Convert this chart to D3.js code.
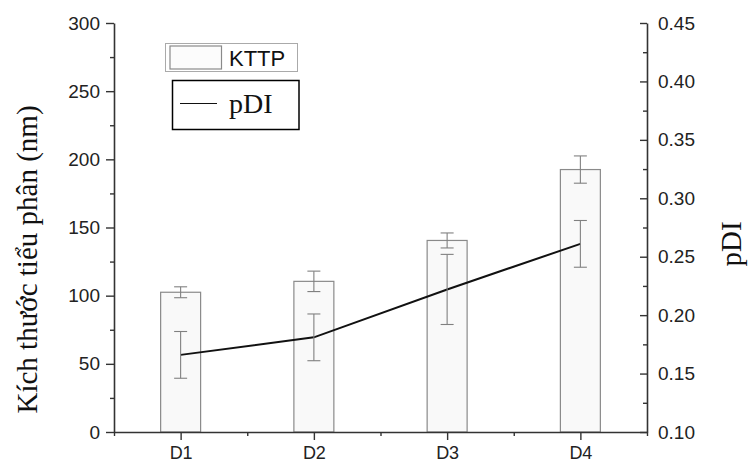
<!DOCTYPE html>
<html>
<head>
<meta charset="utf-8">
<script src="https://cdn.jsdelivr.net/npm/d3@7.9.0/dist/d3.min.js"></script>
<style>
  body { margin: 0; background: #fff; }
  svg { display: block; }
  .tick text { font-family: 'Liberation Sans', Arial, sans-serif; fill: #222; }
</style>
</head>
<body>
<div id="chart"></div>
<script>
// categories and values
const categories = ['D1', 'D2', 'D3', 'D4'];
const sizeValues = [102.5, 110.5, 140.5, 192.5];   // KTTP (nm), bars
const sizeErrors = [4, 7.5, 5.5, 10];
const pdiValues = [0.166, 0.181, 0.222, 0.261];     // pDI, line
const pdiErrors = [0.020, 0.020, 0.030, 0.020];
const leftTicks = [0, 50, 100, 150, 200, 250, 300];
const rightTicks = [0.10, 0.15, 0.20, 0.25, 0.30, 0.35, 0.40, 0.45];
const legendLabels = ['KTTP', 'pDI'];

const width = 749;
const height = 462;

const svg = d3.select('#chart')
    .append('svg')
    .attr('width', width)
    .attr('height', height);

const area = { left: 114, right: 647, top: 23, bottom: 432 };

const xScale = d3.scaleLinear().domain([0.5, categories.length + 0.5]).range([area.left, area.right]);
const yLeft = d3.scaleLinear().domain([0, 300]).range([area.bottom, area.top]);
const yRight = d3.scaleLinear().domain([0.10, 0.45]).range([area.bottom, area.top]);

const axisColor = '#333';
const errColor = '#808080';

// bars
const barHalf = 0.15;
svg.append('g')
    .selectAll('rect')
    .data(sizeValues)
    .join('rect')
    .attr('x', (d, i) => xScale(i + 1 - barHalf))
    .attr('y', (d) => yLeft(d))
    .attr('width', xScale(1 + barHalf) - xScale(1 - barHalf))
    .attr('height', (d) => yLeft(0) - yLeft(d))
    .attr('fill', '#f9f9f9')
    .attr('stroke', '#8a8a8a')
    .attr('stroke-width', 1.2);

// error bars helper
function errorBars(values, errors, yScale) {
    const g = svg.append('g').attr('stroke', errColor).attr('stroke-width', 1.1);
    values.forEach((v, i) => {
        const cx = xScale(i + 1);
        const top = yScale(v + errors[i]);
        const bot = yScale(v - errors[i]);
        g.append('line').attr('x1', cx).attr('x2', cx).attr('y1', top).attr('y2', bot);
        g.append('line').attr('x1', cx - 6.5).attr('x2', cx + 6.5).attr('y1', top).attr('y2', top);
        g.append('line').attr('x1', cx - 6.5).attr('x2', cx + 6.5).attr('y1', bot).attr('y2', bot);
    });
}

errorBars(sizeValues, sizeErrors, yLeft);

// pDI line
const line = d3.line()
    .x((d, i) => xScale(i + 1))
    .y((d) => yRight(d));

svg.append('path')
    .datum(pdiValues)
    .attr('d', line)
    .attr('fill', 'none')
    .attr('stroke', '#111')
    .attr('stroke-width', 2);

errorBars(pdiValues, pdiErrors, yRight);

// axes
function styleAxis(g, fontSize) {
    g.select('.domain').attr('stroke', axisColor).attr('stroke-width', 1.6);
    g.selectAll('.tick line').attr('stroke', axisColor).attr('stroke-width', 1.4);
    g.selectAll('.tick text').attr('font-size', fontSize);
}

// left axis
const leftMinor = svg.append('g')
    .attr('transform', `translate(${area.left},0)`)
    .call(d3.axisLeft(yLeft).tickValues(d3.range(25, 300, 50)).tickSize(4).tickFormat(''));
styleAxis(leftMinor, 19);
leftMinor.select('.domain').remove();

const leftAxis = svg.append('g')
    .attr('transform', `translate(${area.left},0)`)
    .call(d3.axisLeft(yLeft).tickValues(leftTicks).tickSizeInner(8).tickSizeOuter(0).tickPadding(6));
styleAxis(leftAxis, 19);

// right axis (ticks point inward)
const rightMinor = svg.append('g')
    .attr('transform', `translate(${area.right},0)`)
    .call(d3.axisRight(yRight).tickValues(d3.range(0.125, 0.45, 0.05)).tickSize(-4).tickFormat(''));
styleAxis(rightMinor, 19);
rightMinor.select('.domain').remove();

const rightAxis = svg.append('g')
    .attr('transform', `translate(${area.right},0)`)
    .call(d3.axisRight(yRight).tickValues(rightTicks).tickSizeInner(-7).tickSizeOuter(0)
        .tickPadding(11).tickFormat(d3.format('.2f')));
styleAxis(rightAxis, 19);

// bottom axis
const bottomMinor = svg.append('g')
    .attr('transform', `translate(0,${area.bottom})`)
    .call(d3.axisBottom(xScale).tickValues(d3.range(0.5, categories.length + 1, 1)).tickSize(4).tickFormat(''));
styleAxis(bottomMinor, 18);
bottomMinor.select('.domain').remove();

const bottomAxis = svg.append('g')
    .attr('transform', `translate(0,${area.bottom})`)
    .call(d3.axisBottom(xScale).tickValues(d3.range(1, categories.length + 1))
        .tickSizeInner(8).tickSizeOuter(0).tickPadding(6)
        .tickFormat((d) => categories[d - 1]));
styleAxis(bottomAxis, 18);

// axis titles
svg.append('text')
    .attr('transform', `translate(37,${(area.top + area.bottom) / 2 + 32}) rotate(-90)`)
    .attr('text-anchor', 'middle')
    .attr('font-family', "'Liberation Serif', 'Times New Roman', serif")
    .attr('font-size', 29)
    .attr('fill', '#111')
    .text('Kích thước tiểu phân (nm)');

svg.append('text')
    .attr('transform', `translate(741,244) rotate(-90)`)
    .attr('text-anchor', 'middle')
    .attr('font-family', "'Liberation Serif', 'Times New Roman', serif")
    .attr('font-size', 29)
    .attr('fill', '#111')
    .text('pDI');

// legend: KTTP box
const leg1 = svg.append('g');
leg1.append('rect')
    .attr('x', 165.5).attr('y', 43.5).attr('width', 132).attr('height', 28)
    .attr('fill', '#fff').attr('stroke', '#aaa').attr('stroke-width', 1);
leg1.append('rect')
    .attr('x', 170).attr('y', 46).attr('width', 51.5).attr('height', 23)
    .attr('fill', '#fcfcfc').attr('stroke', '#8a8a8a').attr('stroke-width', 1.2);
leg1.append('text')
    .attr('x', 229).attr('y', 66)
    .attr('font-family', "'Liberation Sans', Arial, sans-serif")
    .attr('font-size', 22)
    .attr('fill', '#111')
    .text(legendLabels[0]);

// legend: pDI box
const leg2 = svg.append('g');
leg2.append('rect')
    .attr('x', 172.5).attr('y', 80.5).attr('width', 126.5).attr('height', 49)
    .attr('fill', '#fff').attr('stroke', '#000').attr('stroke-width', 1.5);
leg2.append('line')
    .attr('x1', 180).attr('x2', 217).attr('y1', 103.5).attr('y2', 103.5)
    .attr('stroke', '#111').attr('stroke-width', 1.2);
leg2.append('text')
    .attr('x', 229).attr('y', 113)
    .attr('font-family', "'Liberation Serif', 'Times New Roman', serif")
    .attr('font-size', 28)
    .attr('fill', '#111')
    .text(legendLabels[1]);
</script>
</body>
</html>
